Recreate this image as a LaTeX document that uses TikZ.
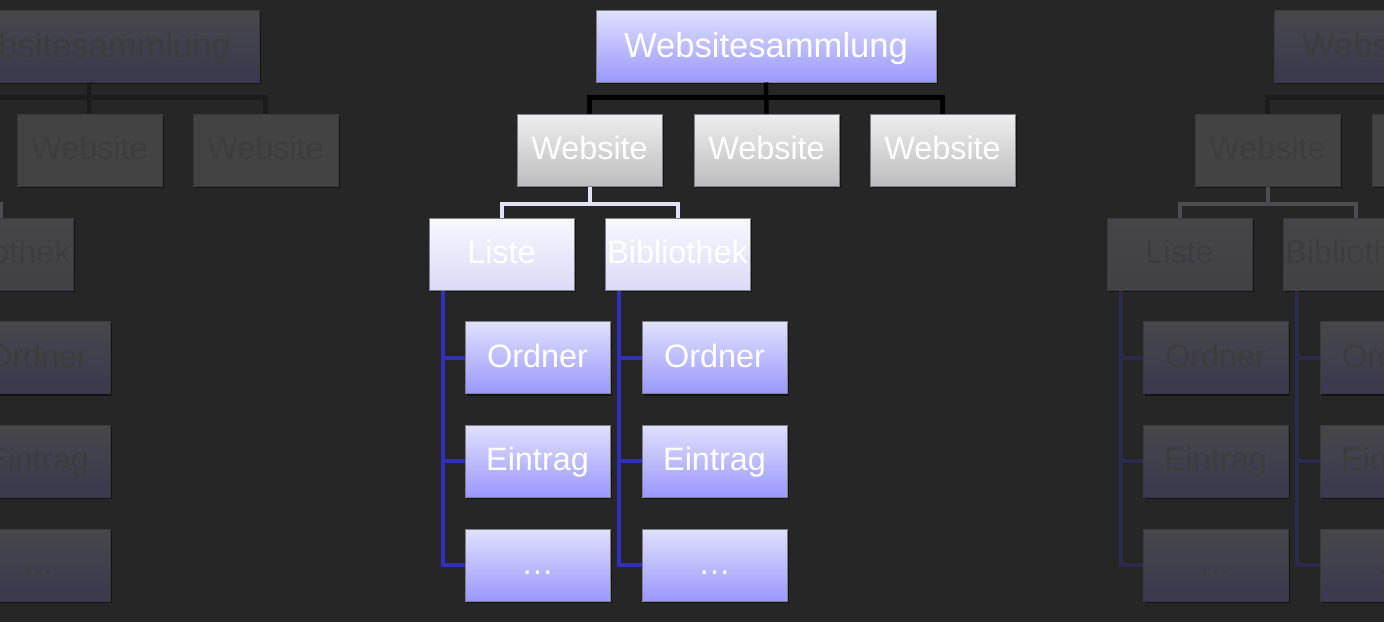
\documentclass[tikz,border=0pt]{standalone}
\usepackage{fontspec}
\setmainfont{Liberation Sans}
\usetikzlibrary{shadows}

\definecolor{bgcol}{HTML}{262626}
\definecolor{rootTop}{HTML}{E0E0FF}
\definecolor{rootBot}{HTML}{9A98FC}
\definecolor{siteTop}{HTML}{EEEEEE}
\definecolor{siteBot}{HTML}{BDBDBD}
\definecolor{libTop}{HTML}{F8F8FF}
\definecolor{libBot}{HTML}{DADAF5}
\definecolor{edgeGrey}{HTML}{808088}
\definecolor{lineLav}{HTML}{E2E2F8}
\definecolor{lineBlue}{HTML}{3030B8}
\definecolor{fRootTop}{HTML}{47474A}
\definecolor{fRootBot}{HTML}{3A394F}
\definecolor{fSite}{HTML}{434343}
\definecolor{fLibTop}{HTML}{464648}
\definecolor{fLibBot}{HTML}{414146}
\definecolor{fText}{HTML}{3D3D3D}
\definecolor{fEdge}{HTML}{3A3A3A}
\definecolor{fRootLine}{HTML}{1C1C1C}
\definecolor{fSiteLine}{HTML}{4C4C52}
\definecolor{fBlue}{HTML}{2A2A4C}

\newcommand{\boxfont}{\fontsize{16.2}{19}\selectfont}
\newcommand{\rootfont}{\fontsize{17.3}{20}\selectfont}

\tikzset{
    box/.style={draw, line width=0.5pt, minimum width=72.5pt, minimum height=36pt,
        inner sep=0pt, font=\boxfont, text height=9.5pt, text depth=0pt,
        drop shadow={shadow xshift=1pt, shadow yshift=-1.2pt, opacity=0.45, fill=black}},
    bigbox/.style={box, minimum width=170pt, font=\rootfont, text height=11pt},
    bright/.style={
        rootbox/.style={bigbox, draw=edgeGrey, top color=rootTop, bottom color=rootBot, text=white},
        sitebox/.style={box, draw=edgeGrey, top color=siteTop, bottom color=siteBot, text=white},
        libbox/.style={box, draw=edgeGrey, top color=libTop, bottom color=libBot, text=white},
        itembox/.style={box, draw=edgeGrey, top color=rootTop, bottom color=rootBot, text=white},
        rootline/.style={line width=2.25pt, black},
        siteline/.style={line width=2pt, lineLav},
        libline/.style={line width=2pt, lineBlue}},
    faded/.style={
        rootbox/.style={bigbox, draw=fEdge, top color=fRootTop, bottom color=fRootBot, text=fText},
        sitebox/.style={box, draw=fEdge, fill=fSite, text=fText},
        libbox/.style={box, draw=fEdge, top color=fLibTop, bottom color=fLibBot, text=fText},
        itembox/.style={box, draw=fEdge, top color=fRootTop, bottom color=fRootBot, text=fText},
        rootline/.style={line width=2.25pt, fRootLine},
        siteline/.style={line width=2pt, fSiteLine},
        libline/.style={line width=2pt, fBlue}}
}

\begin{document}
\begin{tikzpicture}[x=0.5pt, y=-0.5pt]
    \fill[bgcol] (0,0) rectangle (1384,622);
    \useasboundingbox (0,0) rectangle (1384,622);
    \clip (0,0) rectangle (1384,622);

    \foreach \dx/\v/\look in {-677/L/faded, 678/R/faded, 0/C/bright}{
    \begin{scope}[shift={(\dx,0)}, \look]
        \node[rootbox] (root\v) at (766, 46) {Websitesammlung};
        \node[sitebox] (siteA\v) at (589.5, 150) {Website};
        \node[sitebox] (siteB\v) at (766.5, 150) {Website};
        \node[sitebox] (siteC\v) at (942.5, 150) {Website};
        \node[libbox] (liste\v) at (501.5, 254) {Liste};
        \node[libbox] (bib\v) at (677.5, 254) {Bibliothek};

        \node[itembox] (lo\v) at (537.5, 357.5) {Ordner};
        \node[itembox] (le\v) at (537.5, 461) {Eintrag};
        \node[itembox] (ld\v) at (537.5, 565) {…};
        \node[itembox] (bo\v) at (714.5, 357.5) {Ordner};
        \node[itembox] (be\v) at (714.5, 461) {Eintrag};
        \node[itembox] (bd\v) at (714.5, 565) {…};

        \draw[rootline] (root\v.south) -- (siteB\v.north);
        \draw[rootline] (siteA\v.north) -- ++(0,-16) -| (siteC\v.north);

        \draw[siteline] (siteA\v.south) -- ++(0,17) coordinate (sj\v);
        \draw[siteline] (liste\v.north) |- (sj\v) -| (bib\v.north);

        % tree lines below Liste and Bibliothek
        \coordinate (lt\v) at ([xshift=7pt]liste\v.south west);
        \coordinate (bt\v) at ([xshift=7pt]bib\v.south west);
        \draw[libline] (lt\v) |- (ld\v.west);
        \draw[libline] (bt\v) |- (bd\v.west);
        \foreach \c in {lo, le}
            \draw[libline] (lt\v |- \c\v.west) -- (\c\v.west);
        \foreach \c in {bo, be}
            \draw[libline] (bt\v |- \c\v.west) -- (\c\v.west);
    \end{scope}
    }
\end{tikzpicture}
\end{document}
